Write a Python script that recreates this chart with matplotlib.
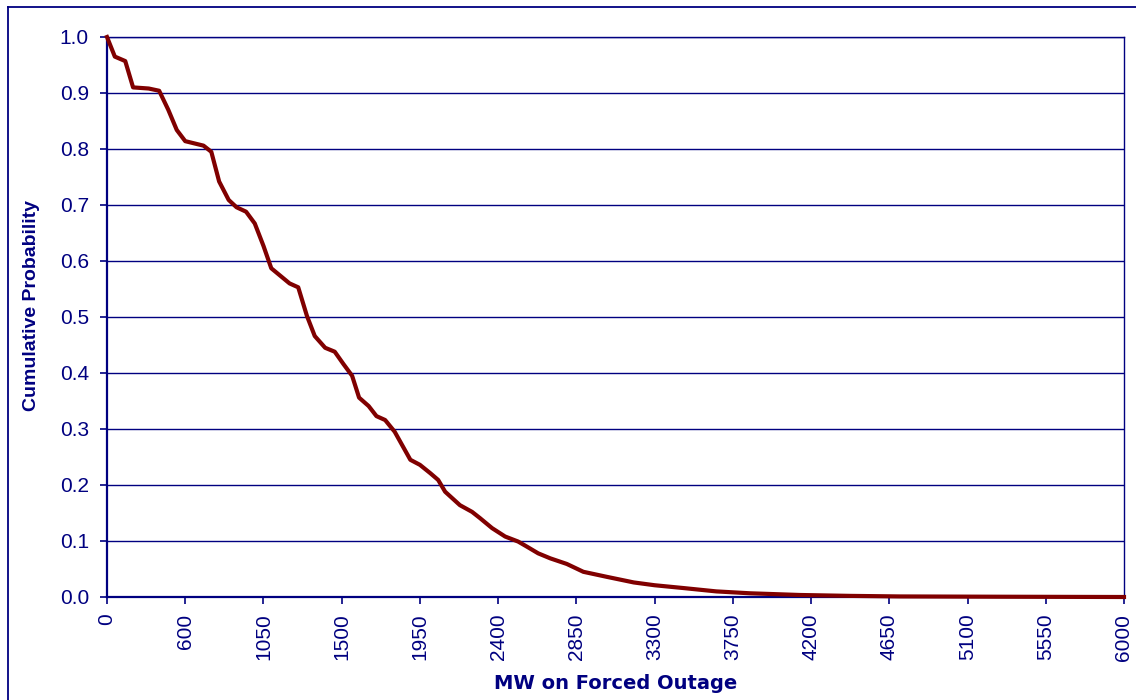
import numpy as np
import matplotlib
matplotlib.use('Agg')
import matplotlib.pyplot as plt
from matplotlib.lines import Line2D

NAVY = '#000080'
DARKRED = '#800000'

# x axis tick labels (Excel category axis, equally spaced)
tick_mw = [0, 600, 1050, 1500, 1950, 2400, 2850, 3300, 3750, 4200, 4650, 5100, 5550, 6000]
y_ticks = [0.0, 0.1, 0.2, 0.3, 0.4, 0.5, 0.6, 0.7, 0.8, 0.9, 1.0]

# curve
mw = [0, 60, 140, 200, 320, 400, 470, 535, 600,
      705, 750, 795, 850, 895, 950, 1000, 1050, 1095,
      1200, 1250, 1300, 1345, 1405, 1460, 1510, 1560, 1600,
      1655, 1700, 1750, 1805, 1895, 1950, 2010, 2055, 2095,
      2180, 2250, 2295, 2365, 2440, 2515, 2565, 2630, 2700,
      2795, 2890, 3025, 3180, 3300, 3465, 3655, 3850, 4135,
      4425, 4710, 5285, 6000]
prob = [1.0, 0.965, 0.957, 0.910, 0.908, 0.904, 0.870, 0.834, 0.814,
        0.806, 0.795, 0.742, 0.709, 0.696, 0.688, 0.667, 0.627, 0.587,
        0.560, 0.553, 0.502, 0.466, 0.445, 0.438, 0.416, 0.395, 0.356,
        0.341, 0.323, 0.316, 0.295, 0.245, 0.236, 0.221, 0.209, 0.188,
        0.164, 0.152, 0.141, 0.123, 0.108, 0.099, 0.090, 0.078, 0.069,
        0.059, 0.045, 0.036, 0.026, 0.021, 0.016, 0.010, 0.0066, 0.0036,
        0.002, 0.001, 0.0005, 0.0]

plt.rcParams['font.family'] = ['Liberation Sans', 'DejaVu Sans']

tick_pos = np.arange(len(tick_mw), dtype=float)


def fwd(x):
    return np.interp(x, tick_mw, tick_pos)


def inv(x):
    return np.interp(x, tick_pos, tick_mw)


fig = plt.figure(figsize=(11.36, 7.0), dpi=100)
ax = fig.add_axes([107 / 1136, 103 / 700, 1017 / 1136, 560 / 700])
ax.set_xscale('function', functions=(fwd, inv))

ax.plot(mw, prob, color=DARKRED, linewidth=3.0, solid_joinstyle='round', zorder=5, clip_on=False)

ax.set_xlim(0, 6000)
ax.set_ylim(0, 1.0)
ax.set_xticks(tick_mw)
ax.set_xticklabels([str(v) for v in tick_mw], rotation=90)
ax.minorticks_off()
ax.set_yticks(y_ticks)
ax.set_yticklabels(['%.1f' % v for v in y_ticks])

ax.grid(axis='y', color=NAVY, linewidth=1.0)
ax.set_axisbelow(True)
for s in ax.spines.values():
    s.set_color(NAVY)
    s.set_linewidth(1.0)
ax.spines['left'].set_linewidth(1.6)
ax.spines['bottom'].set_linewidth(1.6)

ax.tick_params(axis='both', colors=NAVY, labelsize=15, direction='out', length=5, width=1.2, pad=8)
ax.tick_params(axis='x', pad=7)

# Excel draws this title with wide letter spacing
ax.set_xlabel('MW on Forced Outage', fontsize=14, fontweight='bold', color=NAVY,
              family=['DejaVu Sans'])
ax.set_ylabel('Cumulative Probability', fontsize=14, fontweight='bold', color=NAVY)
ax.xaxis.set_label_coords(0.5, -0.138)
ax.yaxis.set_label_coords(-0.066, 0.52)

# chart area border (runs off the right and bottom edges)
fig.add_artist(Line2D([8 / 1136, 8 / 1136], [-0.05, 1 - 7 / 700], transform=fig.transFigure, color=NAVY, linewidth=1.3))
fig.add_artist(Line2D([8 / 1136, 1.05], [1 - 7 / 700, 1 - 7 / 700], transform=fig.transFigure, color=NAVY, linewidth=1.3))

fig.savefig('out.png', dpi=100, facecolor='white')
